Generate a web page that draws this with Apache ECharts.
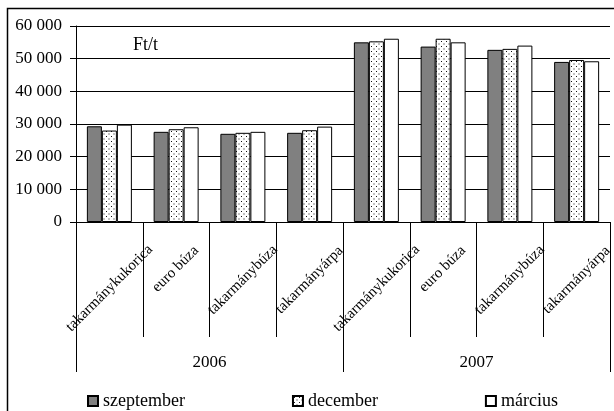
<!DOCTYPE html>
<html>
<head>
<meta charset="utf-8">
<script src="https://cdn.jsdelivr.net/npm/echarts@6/dist/echarts.min.js"></script>
<style>
  html, body { margin: 0; padding: 0; background: #fff; }
  #chart { width: 614px; height: 411px; }
</style>
</head>
<body>
<div id="chart"></div>
<script>
// adatok
const categories = ['takarmánykukorica', 'euro búza', 'takarmánybúza', 'takarmányárpa',
  'takarmánykukorica', 'euro búza', 'takarmánybúza', 'takarmányárpa']
const years = ['2006', '2007']
const szeptember = [29300, 27600, 27000, 27300, 55000, 53700, 52700, 49000]
const december = [28000, 28400, 27300, 28100, 55300, 56100, 53000, 49600]
const marcius = [29800, 29000, 27600, 29200, 56100, 55000, 54000, 49200]
const unitLabel = 'Ft/t'

const FONT = '"Liberation Serif", "Times New Roman", serif'

// pöttyös minta a decemberi oszlopokhoz
const dots = document.createElement('canvas')
dots.width = 5
dots.height = 5
const dc = dots.getContext('2d')
dc.fillStyle = '#fff'
dc.fillRect(0, 0, 5, 5)
dc.fillStyle = '#111'
dc.fillRect(1, 1, 1, 1)
dc.fillRect(3.5, 3.5, 1, 1)

// ferde feliratok (Excel-szerűen): a felirat befoglaló dobozának teteje egy vonalban,
// vízszintesen a kategória közepén -> üres sorokkal és szóközökkel toljuk lefelé
const labelSize = 15
const spacerLine = 4
const NBSP = '\u00a0'
const measure = document.createElement('canvas').getContext('2d')
measure.font = labelSize + 'px ' + FONT
const nbspW = measure.measureText(NBSP.repeat(10)).width / 10 || 3.75
const shiftLabel = name => {
  const L = measure.measureText(name).width
  const S = Math.SQRT2 * (L + labelSize) * 0.3536
  const k = Math.round(S / spacerLine)
  const n = Math.round(S / nbspW)
  return '\n'.repeat(k) + name + NBSP.repeat(n)
}

const chart = echarts.init(document.getElementById('chart'))

const barBase = {
  type: 'bar',
  barWidth: 15,
  barGap: '0%',
  xAxisIndex: 0
}

chart.setOption({
  animation: false,
  textStyle: { fontFamily: FONT, color: '#000' },
  grid: { left: 76, right: 4, top: 26, bottom: 189, outerBoundsMode: 'none' },
  legend: {
    left: 82,
    top: 387,
    itemWidth: 10,
    itemHeight: 10,
    itemGap: 107,
    icon: 'rect',
    textStyle: { fontFamily: FONT, fontSize: 18, color: '#000' },
    data: ['szeptember', 'december', 'március']
  },
  xAxis: [
    {
      type: 'category',
      data: categories,
      position: 'bottom',
      axisLine: { lineStyle: { color: '#000', width: 1 } },
      axisTick: { show: true, interval: 0, length: 115, lineStyle: { color: '#000' } },
      axisLabel: {
        interval: 0,
        rotate: 45,
        margin: 21,
        align: 'center',
        verticalAlign: 'middle',
        lineHeight: spacerLine,
        fontFamily: FONT,
        fontSize: labelSize,
        color: '#000',
        formatter: shiftLabel
      }
    },
    {
      type: 'category',
      data: years,
      position: 'bottom',
      axisLine: { show: false },
      axisTick: { show: true, interval: 0, length: 150, lineStyle: { color: '#000' } },
      axisLabel: {
        interval: 0,
        margin: 141,
        verticalAlign: 'middle',
        fontFamily: FONT,
        fontSize: 17,
        color: '#000'
      }
    }
  ],
  yAxis: {
    type: 'value',
    min: 0,
    max: 60000,
    interval: 10000,
    axisLine: { show: true, lineStyle: { color: '#000' } },
    axisTick: { show: true, length: 6, lineStyle: { color: '#000' } },
    splitLine: { lineStyle: { color: '#000', width: 1 } },
    axisLabel: {
      margin: 14,
      fontFamily: FONT,
      fontSize: 17,
      color: '#000',
      formatter: v => String(v).replace(/\B(?=(\d{3})+(?!\d))/g, ' ')
    }
  },
  series: [
    { ...barBase, name: 'szeptember', data: szeptember,
      itemStyle: { color: '#808080', borderColor: '#000', borderWidth: 1 } },
    { ...barBase, name: 'december', data: december,
      itemStyle: { color: { image: dots, repeat: 'repeat' }, borderColor: '#000', borderWidth: 1 } },
    { ...barBase, name: 'március', data: marcius,
      itemStyle: { color: '#fff', borderColor: '#000', borderWidth: 1 } }
  ],
  graphic: [
    {
      type: 'rect',
      silent: true,
      shape: { x: 7.5, y: 8.5, width: 700, height: 500 },
      style: { fill: 'none', stroke: '#000', lineWidth: 1.5 }
    },
    {
      type: 'text',
      left: 133,
      top: 36,
      style: { text: unitLabel, font: '18px ' + FONT, fill: '#000' }
    }
  ]
})
</script>
</body>
</html>
